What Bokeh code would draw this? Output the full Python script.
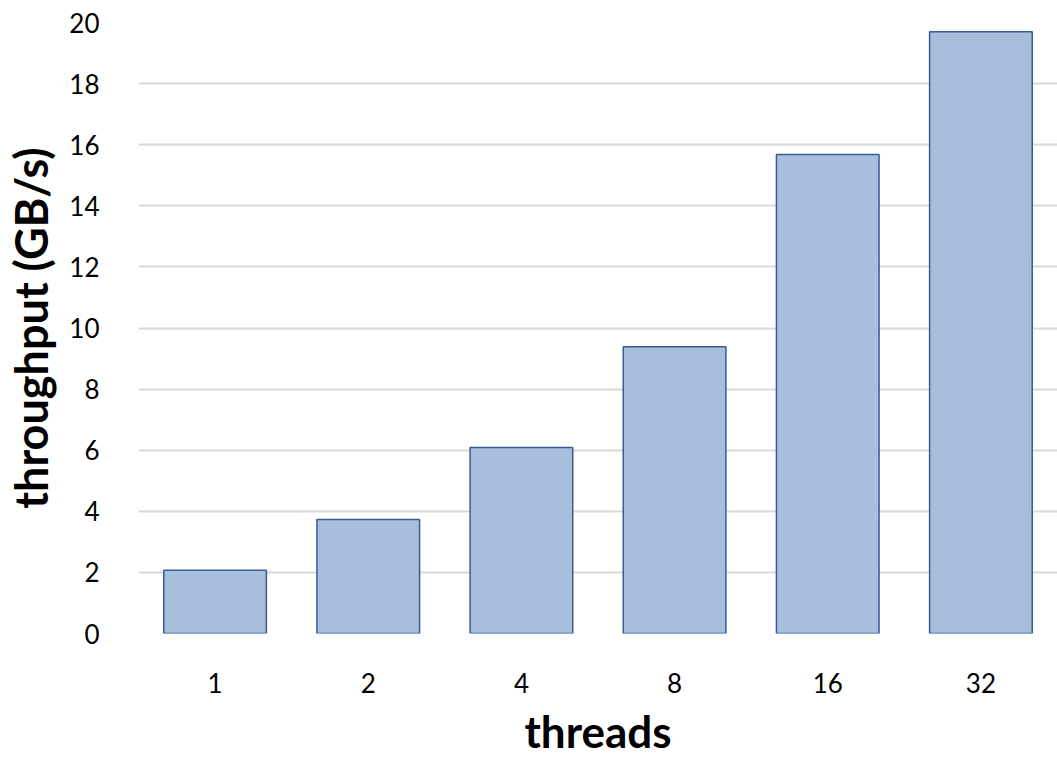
from bokeh.plotting import figure
from bokeh.models import ColumnDataSource, FactorRange, Range1d, FixedTicker
from bokeh.embed import file_html
from bokeh.resources import INLINE

threads = ["1", "2", "4", "8", "16", "32"]
throughput = [2.07, 3.73, 6.09, 9.39, 15.68, 19.70]
y_ticks = [0, 2, 4, 6, 8, 10, 12, 14, 16, 18, 20]

FONT = "Lato"

source = ColumnDataSource(data=dict(threads=threads, throughput=throughput))

p = figure(
    width=1057, height=759,
    x_range=FactorRange(*threads, range_padding=0),
    y_range=Range1d(0, 20),
    output_backend="svg", toolbar_location=None,
    min_border_left=138, min_border_right=0, min_border_top=22, min_border_bottom=126,
)
p.x_range.range_padding = 0

p.vbar(x="threads", top="throughput", width=0.67, source=source,
       fill_color="#a7bfdc", line_color="#365c96", line_width=1.5)

p.outline_line_color = None
p.xgrid.grid_line_color = None
p.ygrid.grid_line_color = "#d9d9d9"
p.ygrid.grid_line_width = 2
p.ygrid.level = "underlay"

p.yaxis.ticker = FixedTicker(ticks=y_ticks)
for ax in (p.xaxis[0], p.yaxis[0]):
    ax.axis_line_color = None
    ax.major_tick_line_color = None
    ax.minor_tick_line_color = None
    ax.major_label_text_font = FONT
    ax.major_label_text_font_size = "26px"
    ax.major_label_text_color = "#000000"
    ax.axis_label_text_font = FONT
    ax.axis_label_text_font_style = "bold"
    ax.axis_label_text_color = "#000000"

p.yaxis.major_label_standoff = 33
p.xaxis.major_label_standoff = 33
p.yaxis.axis_label = "throughput (GB/s)"
p.yaxis.axis_label_text_font_size = "45px"
p.yaxis.axis_label_standoff = 8
p.xaxis.axis_label = "threads"
p.xaxis.axis_label_text_font_size = "44px"
p.xaxis.axis_label_standoff = 9

open("out.html", "w").write(file_html(p, INLINE))
